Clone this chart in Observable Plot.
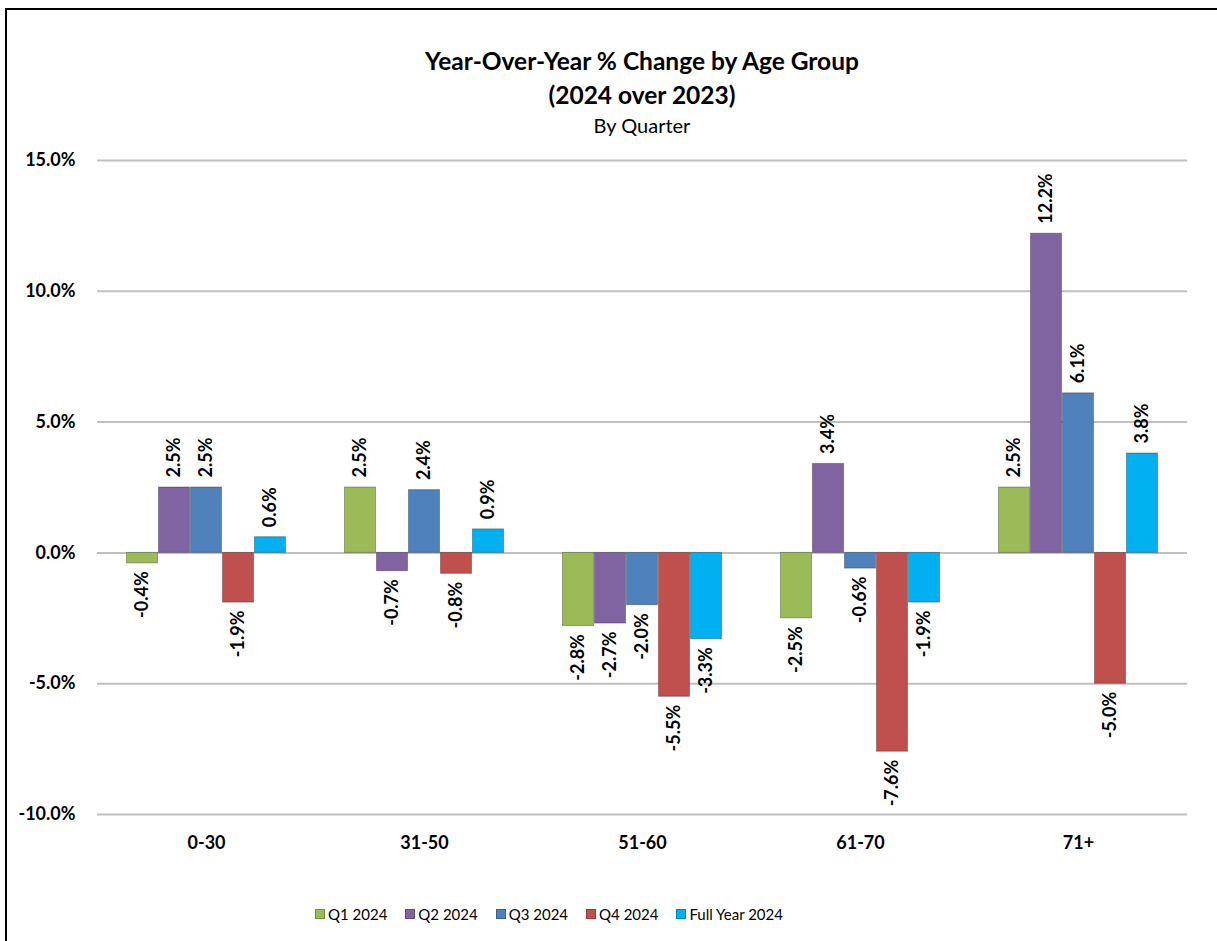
<!DOCTYPE html>
<html><head><meta charset="utf-8">
<script src="https://cdn.jsdelivr.net/npm/d3@7"></script>
<script src="https://cdn.jsdelivr.net/npm/@observablehq/plot@0.6"></script>
<style>
body{margin:0;background:#fff;font-family:Lato,"Open Sans",sans-serif;color:#000;}
#wrap{position:relative;width:1217px;height:941px;overflow:hidden;background:#fff;}
#frame{position:absolute;left:5px;top:8px;width:1400px;height:1100px;border-left:2.5px solid #000;border-top:2.5px solid #000;z-index:5;pointer-events:none;}
.t{position:absolute;left:97px;width:1090px;text-align:center;white-space:nowrap;}
#chart{position:absolute;left:0;top:140px;}
#legend{position:absolute;left:315px;top:903px;display:flex;align-items:center;font-size:15px;font-weight:normal;height:22px;}
.item{display:flex;align-items:center;margin-right:18px;}
.sw{width:10px;height:10px;margin-right:3px;box-sizing:border-box;border:1px solid rgba(0,0,0,0.25);}
</style></head>
<body>
<div id="wrap">
  <div id="frame"></div>
  <div class="t" style="top:46px;font-size:24.5px;font-weight:bold;line-height:30px;">Year-Over-Year % Change by Age Group</div>
  <div class="t" style="top:80px;font-size:24.5px;font-weight:bold;line-height:30px;">(2024 over 2023)</div>
  <div class="t" style="top:112px;font-size:20px;line-height:26px;">By Quarter</div>
  <div id="chart"></div>
  <div id="legend"></div>
</div>
<script>
const groups = ["0-30", "31-50", "51-60", "61-70", "71+"];
const series = ["Q1 2024", "Q2 2024", "Q3 2024", "Q4 2024", "Full Year 2024"];
const q1 = [-0.4, 2.5, -2.8, -2.5, 2.5];
const q2 = [2.5, -0.7, -2.7, 3.4, 12.2];
const q3 = [2.5, 2.4, -2.0, -0.6, 6.1];
const q4 = [-1.9, -0.8, -5.5, -7.6, -5.0];
const fy = [0.6, 0.9, -3.3, -1.9, 3.8];
const colors = ["#9BBB59", "#8064A2", "#4F81BD", "#C0504D", "#00B0F0"];
const yTicks = [-10, -5, 0, 5, 10, 15];

const seriesValues = [q1, q2, q3, q4, fy];
const data = [];
groups.forEach((g, gi) => {
  series.forEach((s, si) => {
    data.push({group: g, series: s, value: seriesValues[si][gi]});
  });
});
const fmt = d => d.value.toFixed(1) + "%";

const chart = Plot.plot({
  width: 1217,
  height: 720,
  marginLeft: 97,
  marginRight: 30,
  marginTop: 20,
  marginBottom: 46,
  style: {background: "transparent", fontFamily: "Lato, 'Open Sans', sans-serif", fontSize: "18px", fontWeight: "bold", color: "#000"},
  fx: {domain: groups, padding: 0, label: null, axis: null},
  x: {domain: series, paddingInner: 0, paddingOuter: 0.88, axis: null},
  y: {domain: [-10, 15], label: null},
  color: {domain: series, range: colors},
  marks: [
    Plot.ruleY(yTicks, {stroke: "#BFBFBF", strokeWidth: 2}),
    Plot.axisY(yTicks, {tickFormat: d => d.toFixed(1) + "%", tickSize: 0, tickPadding: 22, label: null}),
    Plot.axisFx({anchor: "bottom", tickSize: 0, tickPadding: 22, label: null}),
    Plot.barY(data, {fx: "group", x: "series", y: "value", fill: "series", stroke: "rgba(0,0,0,0.3)", strokeWidth: 1, insetLeft: 0.5, insetRight: 0.5}),
    Plot.text(data.filter(d => d.value >= 0), {fx: "group", x: "series", y: "value", text: fmt, rotate: -90, textAnchor: "start", dy: -10}),
    Plot.text(data.filter(d => d.value < 0), {fx: "group", x: "series", y: "value", text: fmt, rotate: -90, textAnchor: "end", dy: 8})
  ]
});
document.getElementById("chart").appendChild(chart);

const legend = document.getElementById("legend");
series.forEach((s, i) => {
  const it = document.createElement("div");
  it.className = "item";
  const sw = document.createElement("div");
  sw.className = "sw";
  sw.style.background = colors[i];
  const tx = document.createElement("span");
  tx.textContent = s;
  it.appendChild(sw);
  it.appendChild(tx);
  legend.appendChild(it);
});
</script>
</body></html>
